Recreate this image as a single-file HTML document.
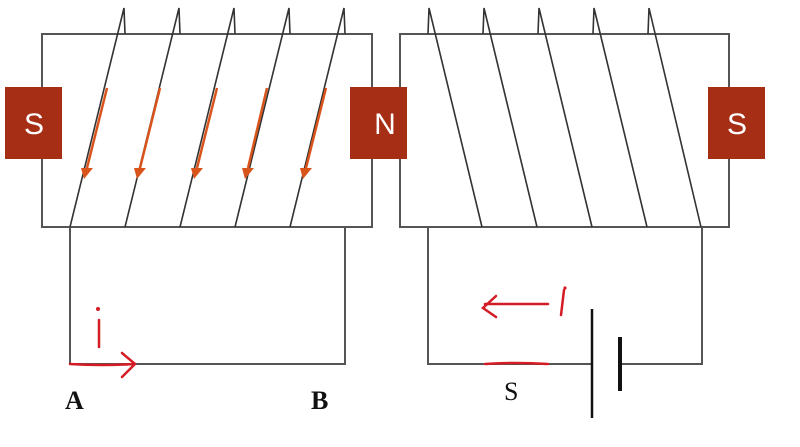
<!DOCTYPE html>
<html><head><style>body{margin:0;background:#fff}svg{display:block}</style></head><body>
<svg width="800" height="447" viewBox="0 0 800 447" xmlns="http://www.w3.org/2000/svg">
<g stroke="#555" stroke-width="2" fill="none">
<rect x="42" y="34" width="330" height="193"/>
<rect x="400" y="34" width="329" height="193"/>
<polyline points="70,227 70,364 345,364 345,227"/>
<polyline points="428,227 428,364 592,364"/>
<polyline points="620,364 702,364 702,227"/>
</g>
<g stroke="#333" stroke-width="1.6" fill="none">
<path d="M70,227 L124,8 L125,34"/>
<path d="M125,227 L179,8 L180,34"/>
<path d="M180,227 L234,8 L235,34"/>
<path d="M235,227 L289,8 L290,34"/>
<path d="M290,227 L344,8 L345,34"/>
<path d="M701,227 L649,8 L648,34"/>
<path d="M647,227 L594,8 L593,34"/>
<path d="M592,227 L539,8 L538,34"/>
<path d="M537,227 L484,8 L483,34"/>
<path d="M482,227 L429,8 L428,34"/>
</g>
<g stroke="#d9541a" stroke-width="2.5" fill="#d9541a">
<line x1="107" y1="88" x2="87" y2="168"/><polygon points="81,168 93,168 84,179" stroke="none"/>
<line x1="160" y1="88" x2="140" y2="168"/><polygon points="134,168 146,168 137,179" stroke="none"/>
<line x1="217" y1="88" x2="197" y2="168"/><polygon points="191,168 203,168 194,179" stroke="none"/>
<line x1="267" y1="88" x2="248" y2="168"/><polygon points="242,168 254,168 245,179" stroke="none"/>
<line x1="326" y1="88" x2="306" y2="168"/><polygon points="300,168 312,168 303,179" stroke="none"/>
</g>
<g fill="#a52e15">
<rect x="5" y="87" width="57" height="72"/>
<rect x="350" y="87" width="57" height="72"/>
<rect x="708" y="87" width="57" height="72"/>
</g>
<g fill="#fff" font-family="Liberation Sans, sans-serif" font-size="30" text-anchor="middle">
<text x="34" y="134">S</text><text x="385" y="134">N</text><text x="737" y="134">S</text>
</g>
<g stroke="#111" stroke-width="3">
<line x1="592" y1="309" x2="592" y2="418" stroke-width="2.5"/>
<line x1="620" y1="337" x2="620" y2="391" stroke-width="4"/>
</g>
<g stroke="#d41c24" stroke-width="2.5" fill="none" stroke-linecap="round">
<line x1="99" y1="320" x2="99" y2="347"/>
<path d="M70,364 Q100,366 135,364 M122,353 L135,364 L122,377"/>
<line x1="548" y1="304" x2="485" y2="304"/>
<path d="M496,296 L483,308 L496,317"/>
<line x1="564" y1="290" x2="561" y2="315"/>
<path d="M485,364 Q515,362 548,364"/>
</g>
<circle cx="98" cy="309" r="2" fill="#d41c24"/>
<circle cx="565" cy="288" r="1.6" fill="#d41c24"/>
<g font-family="Liberation Serif, serif" font-size="26" fill="#111" font-weight="bold">
<text x="65" y="409">A</text><text x="311" y="409">B</text>
<text x="504" y="400" font-weight="normal">S</text>
</g>
</svg>
</body></html>
